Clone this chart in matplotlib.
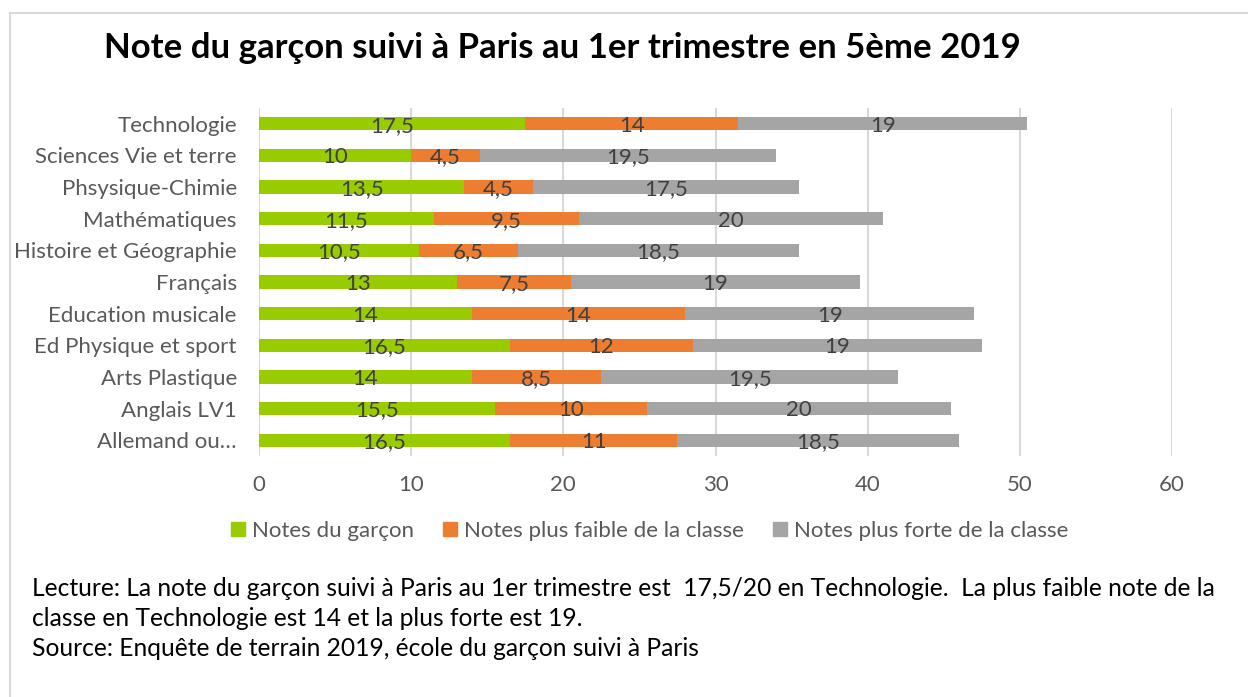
import numpy as np
import matplotlib.pyplot as plt
from matplotlib.patches import Patch, Rectangle

plt.rcParams['font.family'] = ['Lato', 'DejaVu Sans']

# Data (top to bottom, as shown)
matieres = ["Technologie", "Sciences Vie et terre", "Phsysique-Chimie", "Mathématiques",
            "Histoire et Géographie", "Français", "Education musicale",
            "Ed Physique et sport", "Arts Plastique", "Anglais LV1", "Allemand ou…"]
notes_garcon = [17.5, 10, 13.5, 11.5, 10.5, 13, 14, 16.5, 14, 15.5, 16.5]
notes_faible = [14, 4.5, 4.5, 9.5, 6.5, 7.5, 14, 12, 8.5, 10, 11]
notes_forte = [19, 19.5, 17.5, 20, 18.5, 19, 19, 19, 19.5, 20, 18.5]
series_names = ["Notes du garçon", "Notes plus faible de la classe", "Notes plus forte de la classe"]

# Colors
COLORS = ["#99CC00", "#ED7D31", "#A5A5A5"]
TXT = "#404040"
TICK = "#595959"
GRID = "#D9D9D9"

W, H = 1248, 697
fig = plt.figure(figsize=(W / 100, H / 100), dpi=100)


def px(x, y):
    return x / W, 1 - y / H


# Outer frame (Excel chart area border)
fig.patches.append(Rectangle(px(10, 760), (W + 20) / W, 747 / H, transform=fig.transFigure,
                             fill=False, edgecolor="#D9D9D9", linewidth=1.5))

left, top = px(259, 108)
right, bottom = px(1172, 456)
ax = fig.add_axes([left, bottom, right - left, top - bottom])

y = np.arange(len(matieres))
lefts = np.zeros(len(matieres))
for vals, color, name in zip([notes_garcon, notes_faible, notes_forte], COLORS, series_names):
    vals = np.array(vals, dtype=float)
    ax.barh(y, vals, left=lefts, height=0.42, color=color, label=name, zorder=3)
    for yi, l, v in zip(y, lefts, vals):
        ax.text(l + v / 2, yi + 0.06, f"{v:g}".replace(".", ","), ha="center", va="center",
                fontsize=16, color=TXT, zorder=4)
    lefts += vals

ax.set_ylim(len(matieres) - 0.5, -0.5)
ax.set_xlim(0, 60)
ax.set_xticks(range(0, 61, 10))
ax.set_yticks(y)
ax.set_yticklabels(matieres)
ax.tick_params(axis="both", length=0, labelsize=16, colors=TICK)
ax.tick_params(axis="x", pad=14)
ax.tick_params(axis="y", pad=16)
ax.xaxis.grid(True, color=GRID, linewidth=1.5, zorder=0)
for s in ax.spines.values():
    s.set_visible(False)

fig.text(*px(562, 48), "Note du garçon suivi à Paris au 1er trimestre en 5ème 2019",
         ha="center", va="center", fontsize=25, fontweight="bold", color="black")

handles = [Patch(color=c) for c in COLORS]
fig.legend(handles, series_names, loc="center", bbox_to_anchor=px(650, 531), ncol=3,
           frameon=False, fontsize=16, labelcolor=TICK, handlelength=0.6, handleheight=0.6,
           handletextpad=0.35, columnspacing=1.3)

footnote = ["Lecture: La note du garçon suivi à Paris au 1er trimestre est  17,5/20 en Technologie.  La plus faible note de la",
            "classe en Technologie est 14 et la plus forte est 19.",
            "Source: Enquête de terrain 2019, école du garçon suivi à Paris"]
for i, line in enumerate(footnote):
    fig.text(*px(32, 589 + 30 * i), line, ha="left", va="center", fontsize=17.7, color="black")

plt.savefig("out.png", dpi=100)
plt.close()
